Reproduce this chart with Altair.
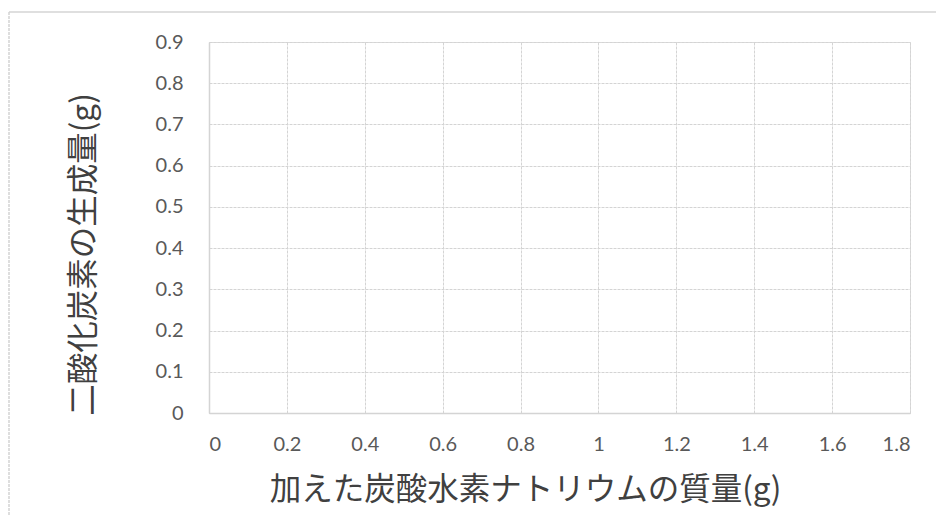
import altair as alt
import pandas as pd

# Empty reference chart: only axes, no data series
x_title = "加えた炭酸水素ナトリウムの質量(g)"
y_title = "二酸化炭素の生成量(g)"
x_domain = [0, 1.8]
y_domain = [0, 0.9]
x_ticks = [0, 0.2, 0.4, 0.6, 0.8, 1.0, 1.2, 1.4, 1.6, 1.8]
y_ticks = [0, 0.1, 0.2, 0.3, 0.4, 0.5, 0.6, 0.7, 0.8, 0.9]

data = pd.DataFrame({"x": pd.Series([], dtype=float), "y": pd.Series([], dtype=float)})
frame_data = pd.DataFrame({"k": [0]})

W, H = 701, 371
GRID = "#d4d4d4"
LABEL_FONT = "Lato"
TITLE_FONT = "Noto Sans CJK JP"

common_axis = dict(
    grid=True, gridColor=GRID, gridDash=[3, 1], gridWidth=1,
    domainColor=GRID, domainWidth=1.5, ticks=False, format="~g",
    labelFont=LABEL_FONT, labelFontSize=20, labelColor="#595959",
    titleFont=TITLE_FONT, titleFontSize=31.5, titleFontWeight="normal",
    titleColor="#404040", titleBaseline="middle", titleAlign="center", titleAnchor="start",
)

base = alt.Chart(data).mark_point(opacity=0).encode(
    x=alt.X("x:Q", scale=alt.Scale(domain=x_domain, nice=False, zero=False),
            axis=alt.Axis(values=x_ticks, title=x_title, labelPadding=21,
                          titleX=316, titleY=77, **common_axis)),
    y=alt.Y("y:Q", scale=alt.Scale(domain=y_domain, nice=False, zero=False),
            axis=alt.Axis(values=y_ticks, title=y_title, labelPadding=26,
                          titleX=-125, titleY=212, titleAngle=270, **common_axis)),
)

# outer chart-area frame (decoration)
frame_top = alt.Chart(frame_data).mark_rule(color=GRID, strokeWidth=1.5).encode(
    x=alt.value(-200), x2=alt.value(735), y=alt.value(-30))
frame_left = alt.Chart(frame_data).mark_rule(color=GRID, strokeWidth=1.5, strokeDash=[3, 1]).encode(
    x=alt.value(-200), y=alt.value(-30), y2=alt.value(482))

chart = alt.layer(base, frame_top, frame_left).properties(
    width=W, height=H,
    autosize=alt.AutoSizeParams(type="none"),
    padding={"left": 201, "top": 34, "right": 26, "bottom": 102},
).configure_view(stroke=GRID, strokeDash=[3, 1], strokeWidth=1).configure(background="white")

chart.save("out.html", embed_options={"renderer": "svg", "actions": False})
